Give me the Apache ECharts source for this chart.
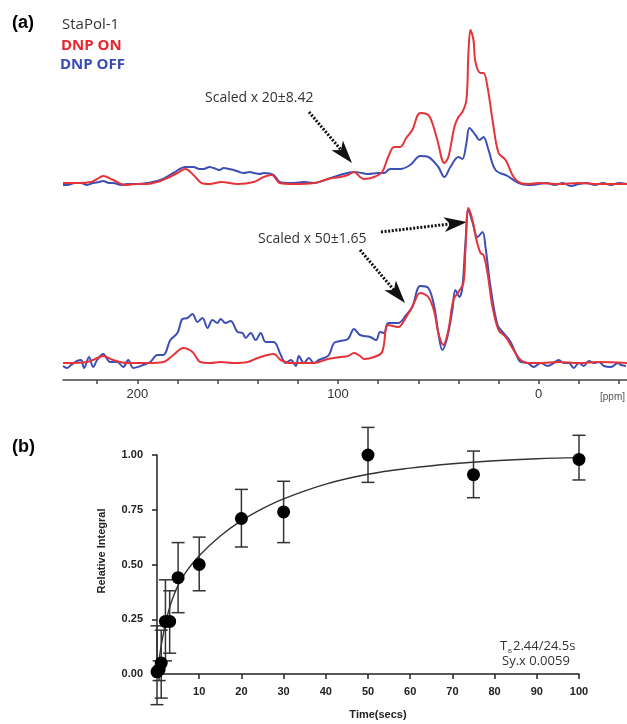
<!DOCTYPE html>
<html>
<head>
<meta charset="utf-8">
<script src="https://cdn.jsdelivr.net/npm/echarts@6/dist/echarts.min.js"></script>
<style>html,body{margin:0;padding:0;background:#fff}#c{width:627px;height:724px}</style>
</head>
<body>
<div id="c"></div>
<script>
// ---------- (a) spectra: [ppm, intensity] ----------
const topRed = [[237,1],[235,1],[229,1],[223,2],[220,5],[217,8],[212,4],[206,-1],[200,0],[195,0],[190,2],[185,6],[180,11],[176,15],[172,9],[168,1],[164,0],[158,2],[150,0],[142,2],[137,7],[133,9],[129,1],[122,0],[112,1],[105,5],[99,7],[95,9],[92,12],[89,7],[87,5],[82,7],[78,12],[75,27],[72,37],[69,37],[66,46],[63,54],[59,71],[55,69],[53,61],[50.5,44],[47,21],[45,27],[42,57],[40,67],[38,72],[36,84],[35,131],[34,154],[32.5,144],[31.5,122],[29,111],[27.5,111],[25.5,97],[23,64],[20,31],[16.5,24],[12.5,7],[9,1],[5,0],[0,1],[-10,0],[-20,1],[-30,0],[-44,0]];
const topBlue = [[237,-1],[235,-1],[231,1],[228,1],[225,-1],[222,1],[219,2],[217,3],[214,1],[212,1],[208,-1],[205,0],[200,0],[195,1],[188.5,4],[182,11],[176,17],[172,17],[169,15],[167,15],[164,17],[162,16],[159,14],[157,16],[154,15],[152,14],[149,12],[147,11],[144,12],[142,11],[139,10],[137,11],[132,9],[129,2],[125,1],[122,1],[117,2],[112,1],[105,5],[99,9],[92,12],[88,11],[85,10],[80,11],[77,11],[74,15],[69,15],[64,19],[59,28],[55,27],[50,17],[47,7],[44,17],[40,27],[38,25],[36,41],[34.5,56],[31.5,49],[29.5,44],[27.5,47],[25,34],[21.5,14],[15.5,8],[10,1],[5,-1],[0,0],[-4,1],[-8,-1],[-12,1],[-16,-2],[-20,0],[-24,1],[-28,-1],[-32,1],[-36,-1],[-40,1],[-44,0]];
const bottomRed = [[237,0],[235,0],[225,1],[221,4],[217,7],[212,3],[205,0],[195,0],[187,1],[182,8],[177,15],[172.5,11],[168.5,1],[163.5,0],[158.5,1],[152,0],[145,1],[140,5],[132,9],[128.5,3],[123.5,0],[112,0],[105,4],[99,6],[95,7],[92,10],[89,7],[87,4],[82,6],[78,11],[75,38],[70,36],[66,46],[63,56],[59,70],[55,66],[52,51],[50,30],[47.5,18],[45,33],[42.5,63],[40,71],[37.5,80],[36.5,113],[35,155],[33,143],[31,123],[29,110],[27.5,108],[25.5,90],[23,56],[20,33],[16.5,26],[12.5,13],[9,3],[5.5,0],[0,0],[-10,1],[-20,0],[-30,1],[-44,0]];
const bottomBlue = [[237,-3],[235,-5],[233,-2],[230,2],[228,3],[226.5,-5],[224,6],[222,-4],[220,3],[217,9],[213.5,1],[210,1],[207,-4],[204.5,3],[202,-5],[197,-2],[193.5,1],[190,8],[187,8],[183.5,23],[180,30],[177.5,44],[175,45],[172.5,49],[170,41],[167.5,45],[165,35],[162.5,43],[160,40],[158.5,44],[156,40],[153.5,42],[150,31],[147.5,30],[146,25],[143.5,30],[141,23],[138.5,30],[136,21],[132,21],[128.5,8],[126,0],[123.5,3],[121,-3],[119.5,7],[117,0],[114.5,5],[112,0],[109.5,3],[107,5],[104.5,8],[102,20],[99,22],[95,24],[92,34],[89,28],[84,26],[81,23],[79,31],[77,30],[75,40],[70,40],[66,48],[63,56],[59,77],[55,75],[52,56],[50,30],[48,13],[45.5,26],[43,53],[41.5,73],[39.5,66],[38,76],[36.5,120],[35,153],[33,141],[30.5,126],[28,131],[26.5,116],[24,76],[20.5,38],[17.5,30],[14,21],[11.5,10],[9,1],[5.5,0],[2.5,-4],[-1,0],[-4.5,-3],[-7.5,0],[-10,3],[-12.5,0],[-15,0],[-17.5,-5],[-20,0],[-22.5,-3],[-25,2],[-27.5,0],[-30,1],[-32.5,-3],[-36,-4],[-39.5,0],[-41,-2],[-43.5,-3]];
const ppmLabels = [200, 100, 0];
const ppmTicks = [220, 200, 180, 160, 140, 120, 100, 80, 60, 40, 20, 0, -20, -40];

// ---------- (b) buildup ----------
const times   = [0, 0.5, 1, 2, 3, 5, 10, 20, 30, 50, 75, 100];
const rel     = [0.01, 0.02, 0.05, 0.24, 0.24, 0.44, 0.50, 0.71, 0.74, 1.00, 0.91, 0.98];
const errLow  = [-0.14, -0.03, -0.11, 0.06, 0.095, 0.28, 0.38, 0.58, 0.60, 0.875, 0.805, 0.886];
const errHigh = [0.22, 0.06, 0.20, 0.43, 0.38, 0.60, 0.625, 0.843, 0.88, 1.126, 1.018, 1.09];
const fitT = [0, 1, 2, 3, 4, 5, 7, 10, 15, 20, 25, 30, 40, 50, 60, 70, 80, 90, 100];
const fitV = [0, 0.13, 0.23, 0.305, 0.36, 0.405, 0.47, 0.54, 0.63, 0.70, 0.755, 0.80, 0.867, 0.912, 0.94, 0.96, 0.974, 0.983, 0.988];
const timeTicks = [10, 20, 30, 40, 50, 60, 70, 80, 90, 100];
const relTicks = [0, 0.25, 0.5, 0.75, 1];

const RED = '#e5333a', BLUE = '#3d4fb5';
const specFont = '"Open Sans", "Noto Sans", sans-serif';
const armFont = '"Liberation Sans", Arial, sans-serif';

function arrow(x1, y1, x2, y2) {
  const dx = x2 - x1, dy = y2 - y1, L = Math.hypot(dx, dy);
  const ux = dx / L, uy = dy / L, px = -uy, py = ux;
  const hl = 23, hw = 7.5, notch = 6;
  const bx = x2 - hl * ux, by = y2 - hl * uy;
  const nx = x2 - (hl - notch) * ux, ny = y2 - (hl - notch) * uy;
  return [
    { type: 'line', shape: { x1: x1, y1: y1, x2: nx, y2: ny },
      style: { stroke: '#111', lineWidth: 3, lineDash: [2, 1.6] } },
    { type: 'polygon', shape: { points: [[x2, y2], [bx + hw * px, by + hw * py], [nx, ny], [bx - hw * px, by - hw * py]] },
      style: { fill: '#111' } }
  ];
}
function txt(x, y, text, font, fill, align) {
  return { type: 'text', x: x, y: y, style: { text: text, font: font, fill: fill || '#333', align: align || 'left', verticalAlign: 'middle' } };
}

const chart = echarts.init(document.getElementById('c'), null, { renderer: 'canvas' });
const option = {
  animation: false,
  backgroundColor: '#fff',
  grid: [
    { left: 63, right: 0, top: 20, height: 170 },
    { left: 63, right: 0, top: 200, height: 180 },
    { left: 157, width: 422, top: 455, height: 219 }
  ],
  xAxis: [
    { gridIndex: 0, type: 'value', inverse: true, min: -44, max: 237, show: false },
    { gridIndex: 1, type: 'value', inverse: true, min: -44, max: 237,
      axisLine: { show: true, onZero: false, lineStyle: { color: '#444', width: 1.5 } },
      axisTick: { show: true, customValues: ppmTicks, length: 4, lineStyle: { color: '#444', width: 1.5 } },
      axisLabel: { customValues: ppmLabels, margin: 8, fontSize: 13, color: '#333', fontFamily: armFont },
      splitLine: { show: false } },
    { gridIndex: 2, type: 'value', min: 0, max: 100,
      axisLine: { show: true, onZero: false, lineStyle: { color: '#222', width: 1.5 } },
      axisTick: { show: true, customValues: timeTicks, length: 5, lineStyle: { color: '#222', width: 1.5 } },
      axisLabel: { customValues: timeTicks, margin: 12, fontSize: 11, fontWeight: 'bold', color: '#222', fontFamily: armFont },
      splitLine: { show: false } }
  ],
  yAxis: [
    { gridIndex: 0, type: 'value', min: -6, max: 164, show: false },
    { gridIndex: 1, type: 'value', min: -17, max: 163, show: false },
    { gridIndex: 2, type: 'value', min: 0, max: 1,
      axisLine: { show: true, onZero: false, lineStyle: { color: '#222', width: 1.5 } },
      axisTick: { show: true, customValues: relTicks, length: 5, lineStyle: { color: '#222', width: 1.5 } },
      axisLabel: { customValues: relTicks, margin: 14, fontSize: 11, fontWeight: 'bold', color: '#222', fontFamily: armFont,
        formatter: v => v.toFixed(2) },
      splitLine: { show: false } }
  ],
  series: [
    { type: 'line', xAxisIndex: 0, yAxisIndex: 0, data: topBlue, showSymbol: false, smooth: 0.35,
      lineStyle: { color: BLUE, width: 2 }, z: 2 },
    { type: 'line', xAxisIndex: 0, yAxisIndex: 0, data: topRed, showSymbol: false, smooth: 0.35,
      lineStyle: { color: RED, width: 2 }, z: 3 },
    { type: 'line', xAxisIndex: 1, yAxisIndex: 1, data: bottomBlue, showSymbol: false, smooth: 0.35,
      lineStyle: { color: BLUE, width: 2 }, z: 2 },
    { type: 'line', xAxisIndex: 1, yAxisIndex: 1, data: bottomRed, showSymbol: false, smooth: 0.35,
      lineStyle: { color: RED, width: 2 }, z: 3 },
    { type: 'line', xAxisIndex: 2, yAxisIndex: 2, data: fitT.map((t, i) => [t, fitV[i]]), showSymbol: false, smooth: 0.4,
      lineStyle: { color: '#333', width: 1.4 }, z: 2 },
    { type: 'custom', xAxisIndex: 2, yAxisIndex: 2, data: times.map((t, i) => [t, errLow[i], errHigh[i]]), z: 3, clip: false,
      renderItem: function (params, api) {
        const t = api.value(0);
        const a = api.coord([t, api.value(2)]), b = api.coord([t, api.value(1)]);
        const hw = 6.5, st = { stroke: '#333', lineWidth: 1.5 };
        return { type: 'group', children: [
          { type: 'line', shape: { x1: a[0], y1: a[1], x2: b[0], y2: b[1] }, style: st },
          { type: 'line', shape: { x1: a[0] - hw, y1: a[1], x2: a[0] + hw, y2: a[1] }, style: st },
          { type: 'line', shape: { x1: b[0] - hw, y1: b[1], x2: b[0] + hw, y2: b[1] }, style: st }
        ] };
      } },
    { type: 'scatter', xAxisIndex: 2, yAxisIndex: 2, data: times.map((t, i) => [t, rel[i]]), symbol: 'circle', symbolSize: 13,
      itemStyle: { color: '#000', opacity: 1 }, z: 4, clip: false }
  ],
  graphic: [].concat(
    [
      txt(12, 23, '(a)', 'bold 18px ' + armFont, '#000'),
      txt(62, 25, 'StaPol-1', '15px ' + specFont, '#333'),
      txt(61, 46, 'DNP ON', 'bold 15px ' + specFont, '#e5262d'),
      txt(60, 65, 'DNP OFF', 'bold 15px ' + specFont, '#3a4cb3'),
      txt(205, 98, 'Scaled x 20\u00b18.42', '14px ' + specFont, '#333'),
      txt(258, 239, 'Scaled x 50\u00b11.65', '14px ' + specFont, '#333'),
      txt(600, 397, '[ppm]', '10px ' + armFont, '#555'),
      txt(12, 447, '(b)', 'bold 18px ' + armFont, '#000'),
      { type: 'text', x: 102, y: 551, rotation: Math.PI / 2,
        style: { text: 'Relative Integral', font: 'bold 11px ' + armFont, fill: '#222', align: 'center', verticalAlign: 'middle' } },
      txt(378, 715, 'Time(secs)', 'bold 11px ' + armFont, '#222', 'center'),
      txt(500, 646, 'T', '13px ' + specFont, '#333'),
      txt(508, 651, 'B', '6px ' + specFont, '#333'),
      txt(513, 646, '2.44/24.5s', '13px ' + specFont, '#333'),
      txt(502, 661, 'Sy.x 0.0059', '13px ' + specFont, '#333')
    ],
    arrow(309, 112, 352, 163),
    arrow(381, 232, 467, 222),
    arrow(360, 250, 405, 303)
  )
};
chart.setOption(option);
</script>
</body>
</html>
